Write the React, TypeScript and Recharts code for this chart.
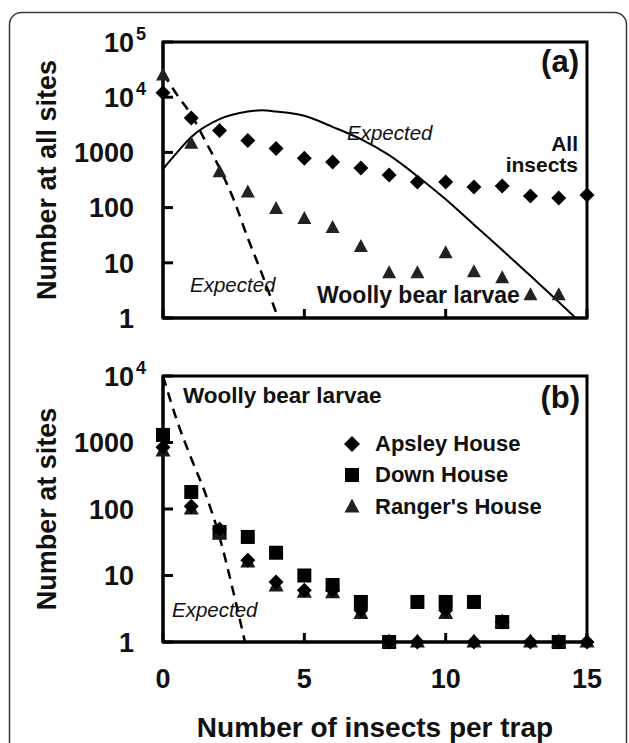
import React from "react";
import {
  ComposedChart,
  Scatter,
  Line,
  XAxis,
  YAxis,
  ReferenceArea,
  Legend,
} from "recharts";

const FONT = '"Liberation Sans", Arial, Helvetica, sans-serif';

// x = number of insects per trap
const trapCounts = [0, 1, 2, 3, 4, 5, 6, 7, 8, 9, 10, 11, 12, 13, 14, 15];

// panel (a): totals over all sites
const allInsects = [12000, 4200, 2500, 1650, 1180, 780, 670, 520, 390, 290, 290, 235, 245, 162, 150, 170];
const woollyLarvae = [25000, 1450, 440, 190, 95, 63, 43, 19.5, 6.5, 6.5, 15, 6.8, 5.3, 2.6, 2.6, null];

// expected curves
const expAllX = [0, 0.5, 1, 2, 3, 3.5, 4, 5, 6, 7, 8, 9, 10, 11, 12, 13, 14, 14.6];
const expAllY = [500, 1000, 1900, 4000, 5500, 5800, 5500, 4600, 2900, 1740, 890, 370, 141, 49, 17, 5.8, 1.95, 1];
const expLarvaeX = [0, 0.5, 1, 1.5, 2, 2.5, 3, 3.5, 4.07];
const expLarvaeY = [27000, 11000, 4800, 1600, 520, 140, 28, 6.3, 1];

// panel (b): by site, woolly bear larvae
const apsley = [850, 110, 50, 17, 8, 6, 6, 3, 1, 1, 3, 1, 2, 1, 1, 1];
const down = [1300, 180, 45, 38, 22, 10, 7.2, 4, 1, 4, 4, 4, 2, null, 1, null];
const rangers = [750, 100, 42, 16, 7, 5.6, 5.5, 2.7, 1, 1, 2.7, 1, 2, 1, 1, 1];
const expSiteX = [0, 0.5, 1, 1.5, 2, 2.5, 2.9];
const expSiteY = [10000, 2100, 575, 170, 38, 5.4, 1];

const xTicks = [0, 5, 10, 15];
const yTicksA = [1, 10, 100, 1000, 10000, 100000];
const yTicksB = [1, 10, 100, 1000, 10000];

const Y_MARGIN = 29; // gap between axis line and tick label
const X_MARGIN = 27;

const toPoints = (xs: number[], ys: (number | null)[]) =>
  xs
    .map((x, i) => ({ x, y: ys[i] }))
    .filter((p) => p.y != null);

const diamond = (r: number, fill = "#000") => (props: any) => {
  const { cx, cy } = props;
  if (cx == null || cy == null) return <g />;
  return (
    <polygon
      points={`${cx},${cy - r} ${cx + r},${cy} ${cx},${cy + r} ${cx - r},${cy}`}
      fill={fill}
    />
  );
};

const square = (h: number, fill = "#000") => (props: any) => {
  const { cx, cy } = props;
  if (cx == null || cy == null) return <g />;
  return <rect x={cx - h} y={cy - h} width={2 * h} height={2 * h} fill={fill} />;
};

const triangle = (w: number, h: number, fill = "#222") => (props: any) => {
  const { cx, cy } = props;
  if (cx == null || cy == null) return <g />;
  return (
    <polygon
      points={`${cx},${cy - h * 0.6} ${cx + w},${cy + h * 0.4} ${cx - w},${cy + h * 0.4}`}
      fill={fill}
    />
  );
};

const textStyle = { fontFamily: FONT, fontWeight: 700, fill: "#111" } as const;

// y tick: inward tick mark plus label (10^n as superscript for big values)
const LogTick = (props: any) => {
  const { x, y, payload } = props;
  const v = payload.value;
  const ax = x + Y_MARGIN;
  const mark = <path d={`M${ax},${y}h10`} stroke="#000" strokeWidth={3} />;
  if (v >= 10000) {
    const exp = Math.round(Math.log10(v));
    return (
      <g>
        {mark}
        <text x={x} y={y} dy="0.36em" textAnchor="end" fontSize={27} {...textStyle}>
          10
        </text>
        <text x={x + 2} y={y} dy="-0.12em" textAnchor="start" fontSize={18} {...textStyle}>
          {exp}
        </text>
      </g>
    );
  }
  return (
    <g>
      {mark}
      <text x={x} y={y} dy="0.36em" textAnchor="end" fontSize={27} {...textStyle}>
        {v}
      </text>
    </g>
  );
};

const XTick = (props: any) => {
  const { x, y, payload } = props;
  const ay = y - X_MARGIN;
  return (
    <g>
      <path d={`M${x},${ay}v-9`} stroke="#000" strokeWidth={3} />
      <text x={x} y={y} dy="0.71em" textAnchor="middle" fontSize={27} {...textStyle}>
        {payload.value}
      </text>
    </g>
  );
};

const XTickMarkOnly = (props: any) => {
  const { x, y } = props;
  const ay = y - X_MARGIN;
  return <path d={`M${x},${ay}v-9`} stroke="#000" strokeWidth={3} />;
};

const yTitle = (title: string) => (props: any) => {
  const vb = props.viewBox || { x: 0, y: 0, width: 163, height: 276 };
  const cx = vb.x + 47;
  const cy = vb.y + vb.height / 2;
  return (
    <text
      x={cx}
      y={cy}
      transform={`rotate(-90 ${cx} ${cy})`}
      textAnchor="middle"
      dominantBaseline="central"
      fontSize={27}
      {...textStyle}
    >
      {title}
    </text>
  );
};

const xTitle = (title: string) => (props: any) => {
  const vb = props.viewBox || { x: 163, y: 302, width: 424, height: 101 };
  return (
    <text
      x={vb.x + vb.width / 2}
      y={vb.y + 95}
      textAnchor="middle"
      fontSize={28}
      {...textStyle}
    >
      {title}
    </text>
  );
};

const legendIcons: Record<string, (p: any) => React.ReactElement> = {
  "Apsley House": diamond(8),
  "Down House": square(7),
  "Ranger's House": triangle(7.5, 14),
};

const SiteLegend = (props: any) => {
  const items = (props.payload || []).filter((e: any) => legendIcons[e.value]);
  return (
    <div style={{ fontFamily: FONT, fontWeight: 700, fontSize: 22, color: "#111" }}>
      {items.map((e: any) => (
        <div key={e.value} style={{ display: "flex", alignItems: "center", height: 31.5 }}>
          <svg width={18} height={18} style={{ marginRight: 14 }}>
            {legendIcons[e.value]({ cx: 9, cy: 9 })}
          </svg>
          <span>{e.value}</span>
        </div>
      ))}
    </div>
  );
};

const axisLine = { stroke: "#000", strokeWidth: 3 };

export default function App() {
  const allPts = toPoints(trapCounts, allInsects);
  const larvaePts = toPoints(trapCounts, woollyLarvae);
  const expAll = toPoints(expAllX, expAllY);
  const expLarvae = toPoints(expLarvaeX, expLarvaeY);
  const apsleyPts = toPoints(trapCounts, apsley);
  const downPts = toPoints(trapCounts, down);
  const rangersPts = toPoints(trapCounts, rangers);
  const expSite = toPoints(expSiteX, expSiteY);

  const ann = { fontFamily: FONT, fill: "#111" } as const;

  return (
    <div style={{ position: "absolute", left: 0, top: 0, width: 629, height: 743, background: "#fff", overflow: "hidden" }}>
      <div style={{ position: "absolute", left: 0, top: 0 }}>
        <ComposedChart width={629} height={338} margin={{ top: 42, right: 42, bottom: 0, left: 0 }}>
          <XAxis
            dataKey="x"
            type="number"
            domain={[0, 15]}
            ticks={xTicks}
            height={20}
            axisLine={axisLine}
            tickLine={false}
            tickSize={0}
            tickMargin={X_MARGIN}
            tick={XTickMarkOnly}
          />
          <YAxis
            dataKey="y"
            type="number"
            scale="log"
            domain={[1, 100000]}
            ticks={yTicksA}
            width={163}
            axisLine={axisLine}
            tickLine={false}
            tickSize={0}
            tickMargin={Y_MARGIN}
            tick={LogTick}
            label={yTitle("Number at all sites")}
          />
          <ReferenceArea x1={0} x2={15} y1={1} y2={100000} stroke="#000" strokeWidth={3} fill="none" fillOpacity={0} />
          <Line data={expAll} dataKey="y" type="monotone" dot={false} stroke="#000" strokeWidth={2} isAnimationActive={false} legendType="none" />
          <Line data={expLarvae} dataKey="y" type="monotone" dot={false} stroke="#000" strokeWidth={2.5} strokeDasharray="10 7" isAnimationActive={false} legendType="none" />
          <Scatter name="All insects" data={allPts} dataKey="y" shape={diamond(7.5)} isAnimationActive={false} />
          <Scatter name="Woolly bear larvae" data={larvaePts} dataKey="y" shape={triangle(7, 13, "#222")} isAnimationActive={false} />
        </ComposedChart>
      </div>

      <div style={{ position: "absolute", left: 0, top: 340 }}>
        <ComposedChart width={629} height={403} margin={{ top: 36, right: 42, bottom: 0, left: 0 }}>
          <XAxis
            dataKey="x"
            type="number"
            domain={[0, 15]}
            ticks={xTicks}
            height={101}
            axisLine={axisLine}
            tickLine={false}
            tickSize={0}
            tickMargin={X_MARGIN}
            tick={XTick}
            label={xTitle("Number of insects per trap")}
          />
          <YAxis
            dataKey="y"
            type="number"
            scale="log"
            domain={[1, 10000]}
            ticks={yTicksB}
            width={163}
            axisLine={axisLine}
            tickLine={false}
            tickSize={0}
            tickMargin={Y_MARGIN}
            tick={LogTick}
            label={yTitle("Number at sites")}
          />
          <ReferenceArea x1={0} x2={15} y1={1} y2={10000} stroke="#000" strokeWidth={3} fill="none" fillOpacity={0} />
          <Line data={expSite} dataKey="y" type="monotone" dot={false} stroke="#000" strokeWidth={2.5} strokeDasharray="10 7" isAnimationActive={false} legendType="none" />
          <Scatter name="Down House" data={downPts} dataKey="y" shape={square(7)} isAnimationActive={false} />
          <Scatter name="Ranger's House" data={rangersPts} dataKey="y" shape={triangle(7.5, 14, "#1a1a1a")} isAnimationActive={false} />
          <Scatter name="Apsley House" data={apsleyPts} dataKey="y" shape={diamond(7.5)} isAnimationActive={false} />
          <Legend
            layout="vertical"
            align="center"
            verticalAlign="middle"
            content={(p: any) => {
              const order = ["Apsley House", "Down House", "Ranger's House"];
              const payload = [...(p.payload || [])].sort(
                (a: any, b: any) => order.indexOf(a.value) - order.indexOf(b.value)
              );
              return <SiteLegend payload={payload} />;
            }}
            wrapperStyle={{ left: 343, top: 88, width: "auto", height: "auto" }}
          />
        </ComposedChart>
      </div>

      <svg width={629} height={743} style={{ position: "absolute", left: 0, top: 0, pointerEvents: "none" }}>
        <rect x={9.5} y={12.5} width={617} height={780} rx={12} fill="none" stroke="#3a3a3a" strokeWidth={1.5} />
        <text x={579} y={72} textAnchor="end" fontSize={31} fontWeight={700} {...ann}>(a)</text>
        <text x={347} y={140} fontSize={20.5} fontStyle="italic" {...ann}>Expected</text>
        <text x={578} y={151} textAnchor="end" fontSize={21} fontWeight={700} {...ann}>All</text>
        <text x={578} y={172} textAnchor="end" fontSize={21} fontWeight={700} {...ann}>insects</text>
        <text x={317} y={303} fontSize={23} fontWeight={700} {...ann}>Woolly bear larvae</text>
        <text x={190} y={292} fontSize={20.5} fontStyle="italic" {...ann}>Expected</text>
        <text x={183} y={403} fontSize={22.5} fontWeight={700} {...ann}>Woolly bear larvae</text>
        <text x={580} y={408} textAnchor="end" fontSize={31} fontWeight={700} {...ann}>(b)</text>
        <text x={172} y={617} fontSize={20.5} fontStyle="italic" {...ann}>Expected</text>
      </svg>
    </div>
  );
}
